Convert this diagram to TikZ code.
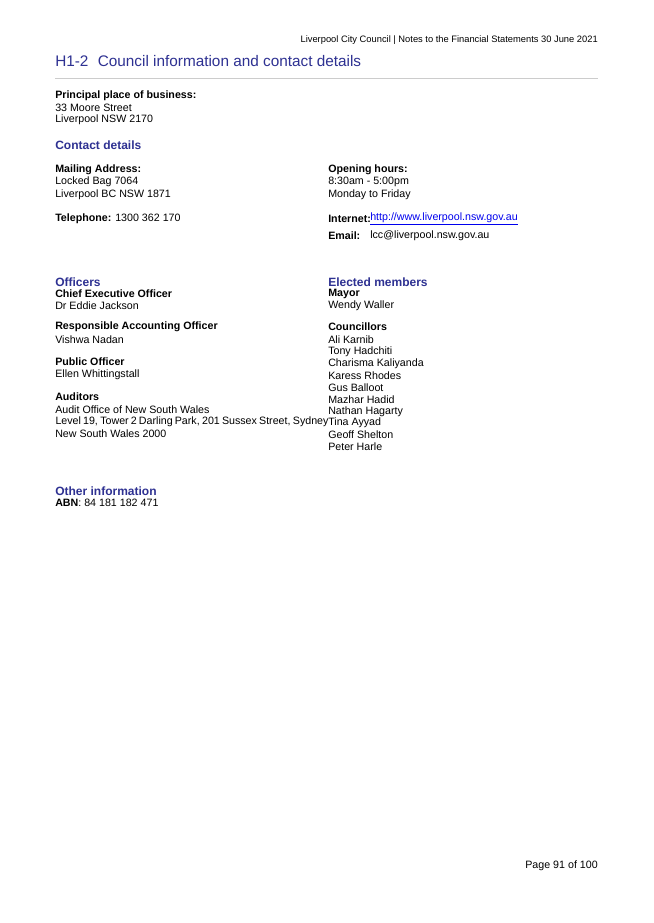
\documentclass[tikz,border=0pt]{standalone}
\usepackage{fontspec}
\setmainfont{Liberation Sans}
\definecolor{hblue}{HTML}{2E3192}
\definecolor{lnk}{HTML}{0000EE}
\begin{document}
\begin{tikzpicture}[x=0.75pt,y=-0.75pt,
  t/.style={anchor=west,inner sep=0pt,font=\fontsize{8}{9}\selectfont},
  b/.style={t,font=\fontsize{8}{9}\selectfont\bfseries},
  h/.style={t,font=\fontsize{9}{10}\selectfont\bfseries,text=hblue}]
\fill[white] (0,0) rectangle (653,923);
\node[t,anchor=east] (hdr) at (598,40) {\fontsize{7}{8}\selectfont Liverpool City Council | Notes to the Financial Statements 30 June 2021};
\node[t,font=\fontsize{11.5}{13}\selectfont,text=hblue] (title) at (55,61) {H1-2\hspace{7pt}Council information and contact details};
\draw[gray!40,line width=0.5pt] (55,78) -- (598,78);
\node[b] (ppb) at (55,96) {Principal place of business:};
\node[t] (ppb1) at (55,108) {33 Moore Street};
\node[t] (ppb2) at (55,120) {Liverpool NSW 2170};
\node[h] (cd) at (55,145) {Contact details};
\node[b] (ma) at (55,170) {Mailing Address:};
\node[t] (ma1) at (55,182) {Locked Bag 7064};
\node[t] (ma2) at (55,195) {Liverpool BC NSW 1871};
\node[t] (tel) at (55,219) {\textbf{Telephone:} 1300 362 170};
\node[b] (oh) at (328,170) {Opening hours:};
\node[t] (oh1) at (328,182) {8:30am - 5:00pm};
\node[t] (oh2) at (328,195) {Monday to Friday};
\node[b] (inet) at (328,219) {Internet:};
\node[t,text=lnk] (url) at (370,219) {\underline{http://www.liverpool.nsw.gov.au}};
\node[b] (em) at (328,236) {Email:};
\node[t] (eml) at (370,236) {lcc@liverpool.nsw.gov.au};
\node[h] (off) at (55,282) {Officers};
\node[b] (ceo) at (55,294) {Chief Executive Officer};
\node[t] (ceo1) at (55,306) {Dr Eddie Jackson};
\node[b] (rao) at (55,327) {Responsible Accounting Officer};
\node[t] (rao1) at (55,340) {Vishwa Nadan};
\node[b] (po) at (55,362) {Public Officer};
\node[t] (po1) at (55,375) {Ellen Whittingstall};
\node[b] (aud) at (55,397) {Auditors};
\node[t] (aud1) at (55,410) {Audit Office of New South Wales};
\node[t] (aud2) at (55,422) {\makebox[273\pgflinewidth][s]{\pgfsetlinewidth{0.75pt}Level 19, Tower 2 Darling Park, 201 Sussex Street, Sydney}};
\node[t] (aud3) at (55,434) {New South Wales 2000};
\node[h] (el) at (328,282) {Elected members};
\node[b] (may) at (328,294) {Mayor};
\node[t] (may1) at (328,306) {Wendy Waller};
\node[b] (cou) at (328,327) {Councillors};
\foreach \n [count=\i] in {Ali Karnib,Tony Hadchiti,Charisma Kaliyanda,Karess Rhodes,Gus Balloot,Mazhar Hadid,Nathan Hagarty,Tina Ayyad,Geoff Shelton,Peter Harle}
  \node[t] (c\i) at (328,{328+11.9*\i}) {\n};
\node[h] (oi) at (55,491) {Other information};
\node[t] (abn) at (55,503) {\textbf{ABN}: 84 181 182 471};
\node[t,anchor=east] (pg) at (598,866) {Page 91 of 100};
\end{tikzpicture}
\end{document}
